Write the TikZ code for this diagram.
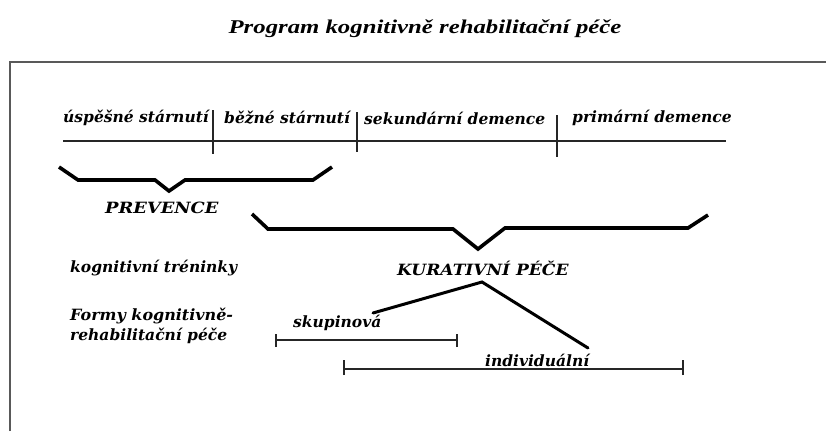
\documentclass[tikz,border=0pt]{standalone}
\usepackage{fontspec}
\setmainfont{DejaVu Serif}
\newfontfamily\titlefont{Liberation Serif}
\begin{document}
\begin{tikzpicture}[x=1pt,y=-1pt,
  lbl/.style={inner sep=0pt,anchor=west,font=\fontsize{15.5}{18}\selectfont\bfseries\itshape},
  thin/.style={line width=1.3pt,black!85},
  brace/.style={line width=3.6pt,line join=miter},
  branch/.style={line width=3pt,line cap=round},
  frame/.style={line width=2pt,black!65}]
\useasboundingbox (0,0) rectangle (826,431);
\draw[frame] (10,431) -- (10,62) -- (826,62);
\node[inner sep=0pt,font=\titlefont\fontsize{19.5}{22}\selectfont\bfseries\itshape] (title) at (425,29) {\scalebox{1.27}[1]{Program kognitivně rehabilitační péče}};
% stage labels
\node[lbl] (l1) at (63,118) {úspěšné stárnutí};
\node[lbl] (l2) at (224,118) {běžné stárnutí};
\node[lbl] (l3) at (364,118) {sekundární demence};
\node[lbl] (l4) at (572,118) {primární demence};
\coordinate (a0) at (63,141);
\coordinate (a1) at (726,141);
\draw[thin] (a0) -- (a1);
\coordinate (t1a) at (213,110); \coordinate (t1b) at (213,154);
\coordinate (t2a) at (357,112); \coordinate (t2b) at (357,152);
\coordinate (t3a) at (557,115); \coordinate (t3b) at (557,157);
\draw[thin] (t1a) -- (t1b);
\draw[thin] (t2a) -- (t2b);
\draw[thin] (t3a) -- (t3b);
% braces
\draw[brace] (59,167) -- (78,180) -- (155,180) -- (169,191) -- (185,180) -- (313,180) -- (332,167);
\node[lbl] (prev) at (105,208) {\scalebox{1.15}[1]{PREVENCE}};
\draw[brace] (252,214) -- (268,229) -- (453,229) -- (478,249) -- (505,228) -- (688,228) -- (708,215);
\node[lbl] (kur) at (397,268) {\scalebox{1.1}[1]{KURATIVNÍ PÉČE}};
\node[lbl] (kt) at (70,268) {kognitivní tréninky};
\node[lbl] (formy) at (70,316) {\scalebox{1.03}[1]{Formy kognitivně-}};
\node[lbl] (formy2) at (70,336) {rehabilitační péče};
% branches
\coordinate (apex) at (482,282);
\coordinate (bl) at (373,313);
\coordinate (br) at (588,348);
\draw[branch] (bl) -- (apex) -- (br);
\node[lbl] (sk) at (293,323) {skupinová};
\node[lbl] (ind) at (485,360) {individuální};
% ranges
\coordinate (s0) at (276,340); \coordinate (s1) at (457,340);
\draw[thin] (s0) -- (s1);
\draw[thin] ([yshift=-7]s0) -- ([yshift=6]s0);
\draw[thin] ([yshift=-7]s1) -- ([yshift=6]s1);
\coordinate (i0) at (344,369); \coordinate (i1) at (683,369);
\draw[thin] (i0) -- (i1);
\draw[thin] ([yshift=-6]i0) -- ([yshift=9]i0);
\draw[thin] ([yshift=-6]i1) -- ([yshift=9]i1);
\end{tikzpicture}
\end{document}
